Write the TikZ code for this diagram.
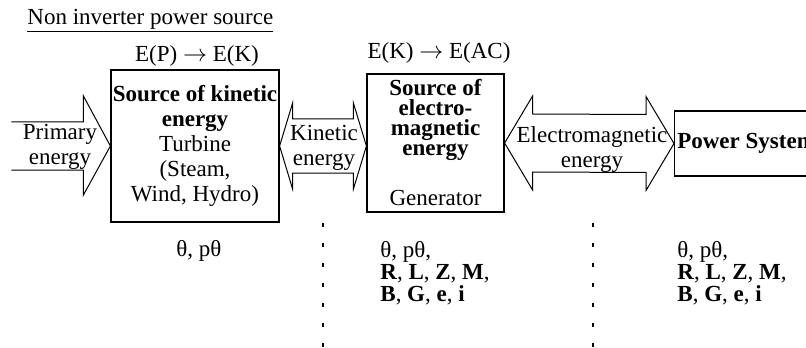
\documentclass[tikz,border=0pt]{standalone}
\usepackage{fontspec}
\setmainfont{Liberation Serif}
\usetikzlibrary{calc}

\tikzset{
  srcbox/.style={draw, line width=0.6pt, inner sep=0.5pt, align=center},
  blockarrow/.style={draw, line width=0.5pt},
  txt/.style={inner sep=0pt, align=center},
  sepline/.style={line width=1.3pt, dash pattern=on 2pt off 8pt},
}

\begin{document}
\begin{tikzpicture}[x=0.5pt, y=-0.5pt, font=\fontsize{11.5}{12.5}\selectfont]
\useasboundingbox (0,0) rectangle (806,347);
\clip (0,0) rectangle (806,347);

% Title
\node[txt, anchor=west] (title) at (27,21) {\underline{Non inverter power source}};

% Blocks (energy sources)
\node[srcbox, minimum width=84pt, minimum height=76pt] (kin) at (195,146)
  {\textbf{Source of kinetic}\\ \textbf{energy}\\ Turbine\\ (Steam,\\ Wind, Hydro)};
\node[srcbox, minimum width=68.5pt, minimum height=69pt] (gen) at (435.5,143)
  {\textbf{Source of}\\[-2.5pt] \textbf{electro-}\\[-2.5pt] \textbf{magnetic}\\[-2.5pt] \textbf{energy}\\[12.5pt] Generator};
\node[srcbox, anchor=west, minimum width=72pt, minimum height=32.5pt, inner xsep=1pt] (pow) at (674,143.5)
  {\textbf{Power System}};

% Conversions
\node[txt] (conv1) at (197,56) {E(P) $\rightarrow$ E(K)};
\node[txt] (conv2) at (439,53) {E(K) $\rightarrow$ E(AC)};

% Block arrows (energy flows)
\draw[blockarrow] ($(kin.west)+(-99,-24)$) -- ++(72,0) -- ++(0,-26) -- (kin.west)
  -- ++(-27,49) -- ++(0,-25) -- ++(-72,0);
\coordinate (ktip) at (gen.west |- kin.east);
\draw[blockarrow] (kin.east) -- ++(13,-43) -- ++(0,16) -- ($(ktip)+(-13,-27)$) -- ++(0,-16)
  -- (ktip) -- ++(-13,43) -- ++(0,-16) -- ($(kin.east)+(13,27)$) -- ++(0,16) -- cycle;
\draw[blockarrow] (gen.east) -- ++(28,-47) -- ++(0,18) -- ($(pow.west)+(-28,-29)$) -- ++(0,-18)
  -- (pow.west) -- ++(-28,47) -- ++(0,-18) -- ($(gen.east)+(28,29)$) -- ++(0,18) -- cycle;

\node[txt] (prim) at (60,147) {Primary\\energy};
\node[txt] (kinlab) at (324,148) {Kinetic\\energy};
\node[txt] (emlab) at (592,150) {Electromagnetic\\energy};

% Variables
\node[txt, anchor=west] (var1) at (176,251) {θ, pθ};
\node[txt, anchor=west, align=left, font=\fontsize{11.5}{11}\selectfont] (var2) at (380,273)
  {θ, pθ,\\ \textbf{R}, \textbf{L}, \textbf{Z}, \textbf{M},\\ \textbf{B}, \textbf{G}, \textbf{e}, \textbf{i}};
\node[txt, anchor=west, align=left, font=\fontsize{11.5}{11}\selectfont] (var3) at (677,273)
  {θ, pθ,\\ \textbf{R}, \textbf{L}, \textbf{Z}, \textbf{M},\\ \textbf{B}, \textbf{G}, \textbf{e}, \textbf{i}};

% Separators
\draw[sepline] (323,223) -- (323,347);
\draw[sepline] (593,223) -- (593,347);
\end{tikzpicture}
\end{document}
